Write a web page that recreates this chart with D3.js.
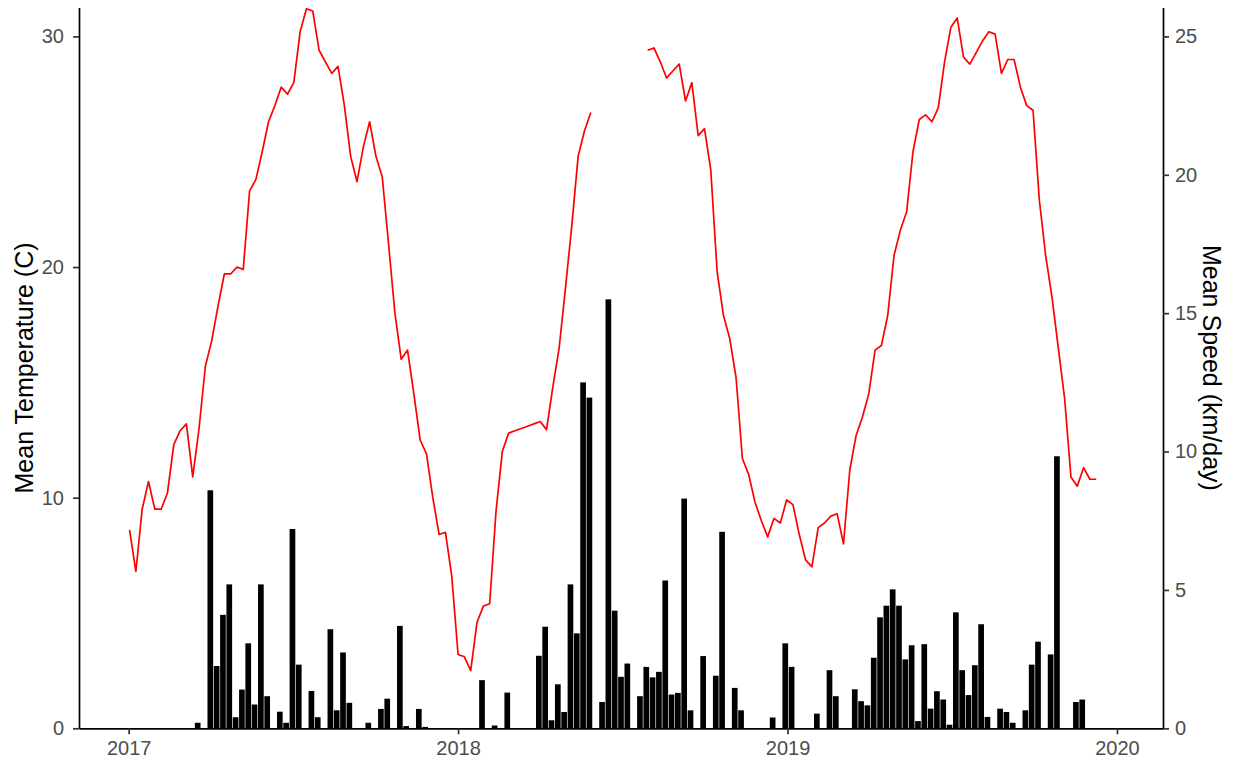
<!DOCTYPE html>
<html>
<head>
<meta charset="utf-8">
<script src="https://cdnjs.cloudflare.com/ajax/libs/d3/7.8.5/d3.min.js"></script>
<style>
    body { margin: 0; background: #fff; }
    svg { display: block; font-family: "Liberation Sans", Arial, sans-serif; }
    .tick text { fill: #4d4d4d; font-size: 20px; }
    .tick line { stroke: #333; stroke-width: 1.7px; }
    .domain { stroke: #000; stroke-width: 1.7px; }
</style>
</head>
<body>
<svg width="1235" height="765"></svg>
<script>
// weekly mean temperature, one value per Monday from 2017-01-02 (null = no data)
var tempStart = "2017-01-02",
    temp2017 = [8.6, 6.8, 9.5, 10.7, 9.5, 9.5, 10.2, 12.3, 12.9, 13.2,
        10.9, 13.0, 15.7, 16.8, 18.3, 19.7, 19.7, 20.0, 19.9, 23.3,
        23.8, 25.0, 26.3, 27.0, 27.8, 27.5, 28.0, 30.2, 31.2, 31.1,
        29.4, 28.9, 28.4, 28.7, 27.0, 24.8, 23.7, 25.2, 26.3, 24.8,
        23.9, 21.0, 18.0, 16.0, 16.4, 14.5, 12.5, 11.9, 10.0, 8.4,
        8.5, 6.6],
    temp2018 = [3.2, 3.1, 2.5, 4.6, 5.3, 5.4, 9.4, 12.0, 12.8, 12.9,
        13.0, 13.1, 13.2, 13.3, 12.95, 14.8, 16.5, 19.1, 21.8, 24.8,
        25.9, 26.7, null, null, null, null, null, null, null, null,
        29.4, 29.5, 28.9, 28.2, 28.5, 28.8, 27.2, 28.0, 25.7, 26.0,
        24.2, 19.8, 17.9, 16.9, 15.2, 11.7, 11.0, 9.8, 9.0, 8.3,
        9.1, 8.9],
    temp2019 = [9.9, 9.7, 8.4, 7.3, 7.0, 8.7, 8.9, 9.2, 9.3, 8.0,
        11.2, 12.7, 13.5, 14.5, 16.4, 16.6, 17.9, 20.5, 21.6, 22.4,
        25.0, 26.4, 26.6, 26.3, 26.9, 28.9, 30.4, 30.8, 29.1, 28.8,
        29.3, 29.8, 30.2, 30.1, 28.4, 29.0, 29.0, 27.8, 27.0, 26.8,
        22.9, 20.5, 18.7, 16.5, 14.3, 10.9, 10.5, 11.3, 10.8, 10.8];

// weekly mean speed (km/day), one bar per week from 2017-03-18
var speedStart = "2017-03-18T12:00",
    speed2017 = [0.2, 0, 8.6, 2.25, 4.1, 5.2, 0.4, 1.4, 3.07, 0.86,
        5.2, 1.16, 0, 0.6, 0.2, 7.2, 2.3, 0, 1.35, 0.4,
        0, 3.58, 0.65, 2.74, 0.92, 0, 0, 0.2, 0, 0.7,
        1.07, 0, 3.7, 0.08, 0, 0.7, 0.05, 0, 0, 0,
        0, 0, 0, 0, 0],
    speed2018 = [1.74, 0, 0.1, 0, 1.29, 0, 0, 0, 0, 2.62,
        3.67, 0.29, 1.59, 0.59, 5.2, 3.43, 12.5, 11.95, 0, 0.95,
        15.5, 4.25, 1.86, 2.34, 0, 1.16, 2.22, 1.84, 2.04, 5.34,
        1.22, 1.28, 8.3, 0.65, 0, 2.61, 0, 1.9, 7.1, 0,
        1.46, 0.65, 0, 0, 0, 0, 0.39, 0, 3.07, 2.22,
        0, 0, 0],
    speed2019 = [0.53, 0, 2.1, 1.16, 0, 0, 1.41, 0.98, 0.83, 2.55,
        4.01, 4.43, 5.02, 4.43, 2.49, 3.0, 0.26, 3.04, 0.71, 1.34,
        1.04, 0.13, 4.19, 2.1, 1.2, 2.28, 3.76, 0.41, 0, 0.71,
        0.59, 0.2, 0, 0.65, 2.3, 3.13, 0, 2.67, 9.83, 0,
        0, 0.95, 1.04];

var xTickYears = [2017, 2018, 2019, 2020],
    tempTicks = [0, 10, 20, 30],
    speedTicks = [0, 5, 10, 15, 20, 25],
    speedFactor = 1.2;

chart();

function chart() {
    var svg = d3.select("svg"),
        left = 79, right = 1163, top = 7.6, bottom = 728.3,
        origin = new Date(2017, 0, 1),
        x = d3.scaleTime()
            .domain([d3.timeDay.offset(origin, -54.6), d3.timeDay.offset(origin, 1146)])
            .range([left, right]),
        yTemp = d3.scaleLinear().domain([0, 31.25]).range([bottom, top]),
        ySpeed = d3.scaleLinear().domain([0, 31.25 / speedFactor]).range([bottom, top]);

    var temps = temp2017.concat(temp2018, temp2019).map(function(v, i) {
        return {date: d3.timeDay.offset(new Date(tempStart + "T00:00"), 7 * i), value: v};
    });
    var speeds = speed2017.concat(speed2018, speed2019).map(function(v, i) {
        return {date: d3.timeDay.offset(new Date(speedStart), 7 * i), value: v};
    });

    var barW = (x(d3.timeDay.offset(origin, 7)) - x(origin)) * 0.9;

    svg.append("g")
        .selectAll("rect")
        .data(speeds.filter(function(d) { return d.value > 0; }))
        .join("rect")
        .attr("x", function(d) { return x(d.date) - barW / 2; })
        .attr("width", barW)
        .attr("y", function(d) { return ySpeed(d.value); })
        .attr("height", function(d) { return bottom - ySpeed(d.value); })
        .attr("fill", "#000");

    var line = d3.line()
        .defined(function(d) { return d.value != null; })
        .x(function(d) { return x(d.date); })
        .y(function(d) { return yTemp(d.value); });

    svg.append("path")
        .datum(temps)
        .attr("fill", "none")
        .attr("stroke", "#ff0000")
        .attr("stroke-width", 1.7)
        .attr("stroke-linejoin", "round")
        .attr("d", line);

    svg.append("g")
        .attr("transform", "translate(0," + bottom + ")")
        .call(d3.axisBottom(x)
            .tickValues(xTickYears.map(function(y) { return new Date(y, 0, 1); }))
            .tickFormat(d3.timeFormat("%Y"))
            .tickSize(6).tickSizeOuter(0).tickPadding(6.5));

    svg.append("g")
        .attr("transform", "translate(" + left + ",0)")
        .call(d3.axisLeft(yTemp).tickValues(tempTicks)
            .tickSize(6).tickSizeOuter(0).tickPadding(9));

    svg.append("g")
        .attr("transform", "translate(" + right + ",0)")
        .call(d3.axisRight(ySpeed).tickValues(speedTicks)
            .tickSize(6).tickSizeOuter(0).tickPadding(6));

    svg.append("text")
        .attr("transform", "translate(33," + (top + bottom) / 2 + ") rotate(-90)")
        .attr("text-anchor", "middle")
        .attr("font-size", 25)
        .attr("fill", "#000")
        .text("Mean Temperature (C)");

    svg.append("text")
        .attr("transform", "translate(1203," + (top + bottom) / 2 + ") rotate(90)")
        .attr("text-anchor", "middle")
        .attr("font-size", 25)
        .attr("fill", "#000")
        .text("Mean Speed (km/day)");
}
</script>
</body>
</html>
